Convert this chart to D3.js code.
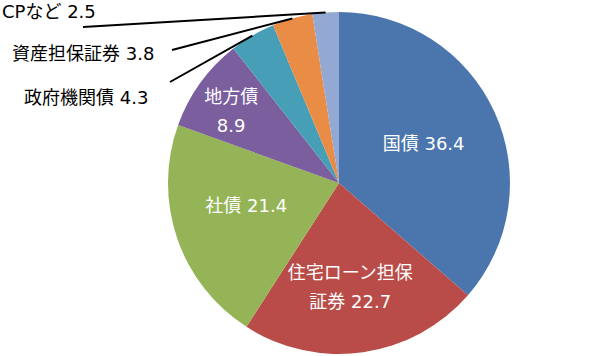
<!DOCTYPE html>
<html><head><meta charset="utf-8">
<script src="https://cdn.jsdelivr.net/npm/d3@7"></script>
<style>html,body{margin:0;padding:0;background:#fff;}svg{display:block;}</style>
</head><body>
<svg id="chart" width="614" height="356"></svg>
<script>
const categories = ["国債", "住宅ローン担保証券", "社債", "地方債", "政府機関債", "資産担保証券", "CPなど"];
const values = [36.4, 22.7, 21.4, 8.9, 4.3, 3.8, 2.5];
const colors = ["#4A76AD", "#B94C49", "#94B457", "#7A5E9D", "#479FB7", "#E98C45", "#93A8D2"];
// inside label lines (text only)
const insideLines = [["国債 36.4"], ["住宅ローン担保", "証券 22.7"], ["社債 21.4"], ["地方債", "8.9"], null, null, null];
const outsideLabels = [null, null, null, null, "政府機関債 4.3", "資産担保証券 3.8", "CPなど 2.5"];

// layout
const W = 614, H = 356, cx = 339, cy = 183, R = 171;
const font = '"DejaVu Sans","Noto Sans CJK JP",sans-serif';
const fs = 18;
const insideLayout = [
  {r: 93, dx: 0, dy: -1},
  {r: 108, dx: -4, dy: -3},
  {r: 99, dx: 1, dy: -9},
  {r: 133, dx: 0, dy: 6},
];
const outsideLayout = {
  4: {x: 24, y: 104, lx: 170, ly: 82},
  5: {x: 12, y: 60, lx: 172, ly: 50},
  6: {x: 2, y: 18, lx: 83, ly: 27}
};

const svg = d3.select("#chart");
const g = svg.append("g").attr("transform", `translate(${cx},${cy})`);
const pie = d3.pie().sort(null).value(d => d)(values);
const arc = d3.arc().innerRadius(0).outerRadius(R);
const edge = d3.arc().innerRadius(R).outerRadius(R);

g.selectAll("path.slice").data(pie).join("path")
  .attr("class", "slice")
  .attr("d", arc)
  .attr("fill", (d, i) => colors[i]);

// inside labels
pie.forEach((d, i) => {
  const lines = insideLines[i];
  if (!lines) return;
  const L = insideLayout[i];
  const a = (d.startAngle + d.endAngle) / 2;
  const x = L.r * Math.sin(a) + L.dx;
  const y = -L.r * Math.cos(a) + L.dy;
  const lh = 29;
  const t = g.append("text")
    .attr("text-anchor", "middle")
    .attr("font-family", font)
    .attr("font-size", fs)
    .attr("fill", "#fff");
  lines.forEach((ln, k) => {
    t.append("tspan").attr("x", x)
      .attr("y", y + (k - (lines.length - 1) / 2) * lh + fs * 0.36)
      .text(ln);
  });
});

// outside labels with leader lines
pie.forEach((d, i) => {
  const lab = outsideLabels[i];
  if (!lab) return;
  const L = outsideLayout[i];
  const c = edge.centroid(d);
  svg.append("line")
    .attr("x1", L.lx).attr("y1", L.ly)
    .attr("x2", cx + c[0]).attr("y2", cy + c[1])
    .attr("stroke", "#000").attr("stroke-width", 2);
  svg.append("text")
    .attr("x", L.x).attr("y", L.y)
    .attr("font-family", font)
    .attr("font-size", fs)
    .attr("fill", "#000")
    .text(lab);
});
</script>
</body></html>
